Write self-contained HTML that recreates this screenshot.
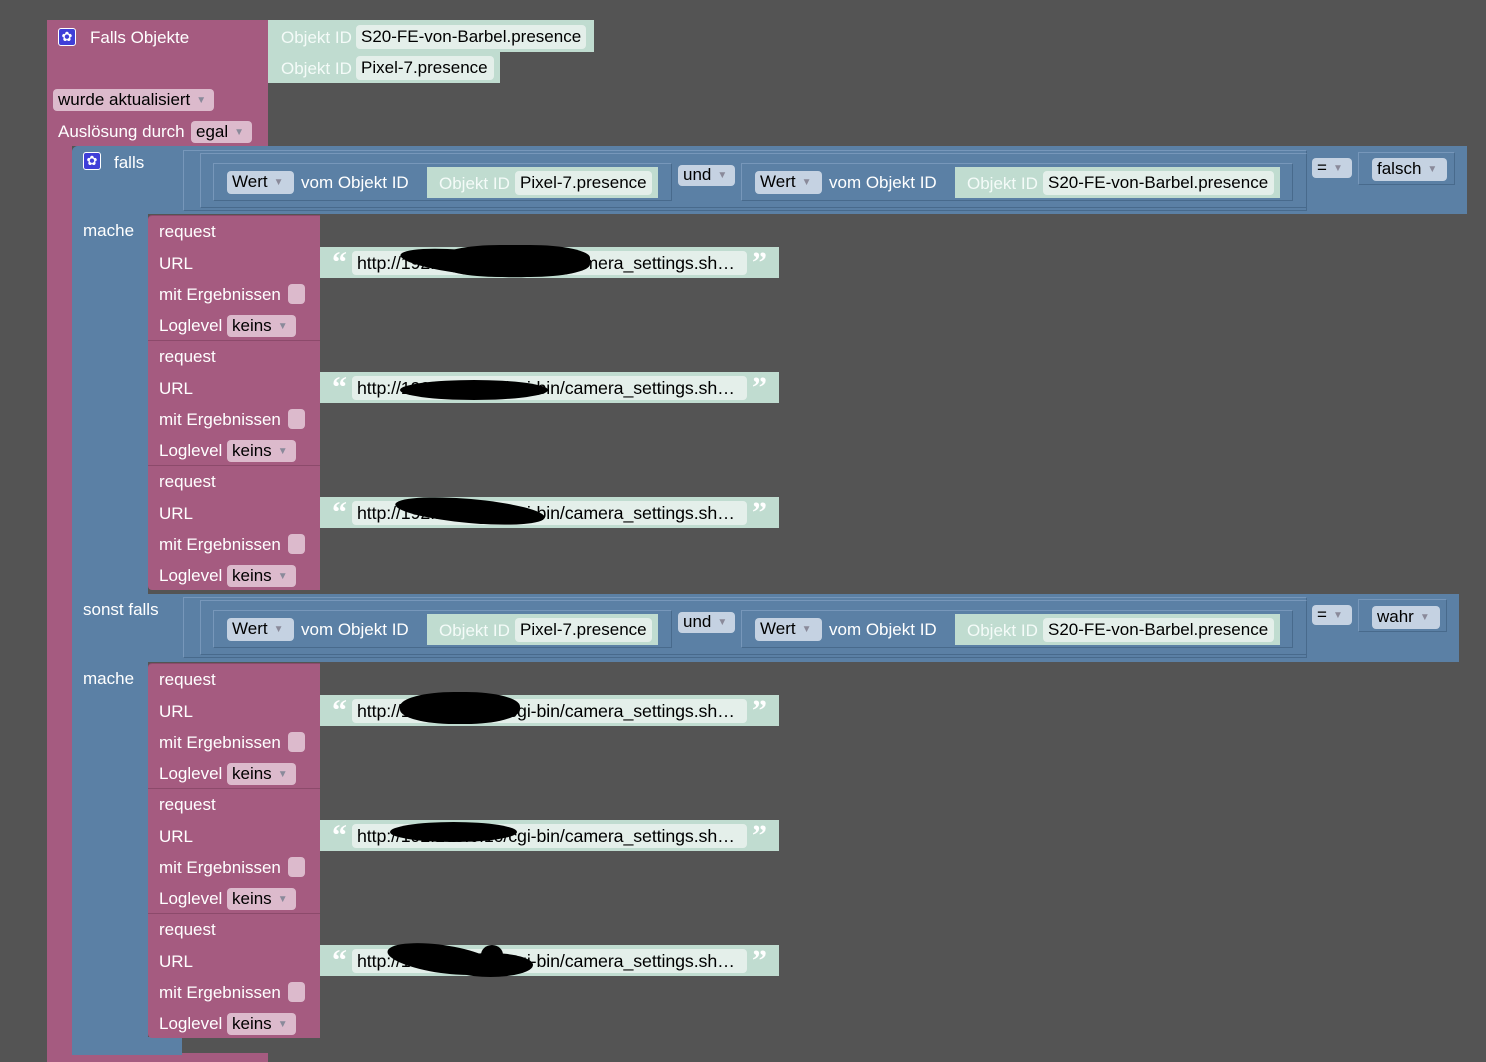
<!DOCTYPE html>
<html><head><meta charset="utf-8"><style>
body{margin:0;width:1486px;height:1062px;background:#545454;overflow:hidden;font-family:"Liberation Sans",Arial,sans-serif;font-size:17px;position:relative}
div{position:absolute;box-sizing:border-box}
.t{color:#fff;white-space:nowrap;line-height:22px}
.pk{background:#a55b80}
.bl{background:#5b80a5}
.tl{background:#c0dcd0}
.pdd{background:#dcbacc;border-radius:4px;color:#000;line-height:20px;padding-left:5px;white-space:nowrap}
.bdd{background:#c5d2e2;border-radius:4px;color:#000;line-height:22px;padding-left:5px;white-space:nowrap}
.ar{font-size:10px;color:#8a8a9a;margin-left:6px;vertical-align:2px}
.fld{background:#e4efea;border-radius:4px;color:#000;line-height:24px;padding-left:5px;white-space:nowrap;overflow:hidden}
.u{font-size:17.8px;letter-spacing:-0.1px}
.box{border:1px solid #7797ba;border-bottom-color:#486a8c;border-right-color:#486a8c}
.blob{background:#000;border-radius:50%}
.q{color:#fff;font-size:30px;font-family:"Liberation Serif",serif;line-height:30px;font-weight:bold}
</style></head><body>

<!-- main pink -->
<div class="pk" style="left:47px;top:20px;width:221px;height:126px;border-radius:6px 0 0 0"></div>
<div class="pk" style="left:47px;top:20px;width:25px;height:1042px"></div>
<div class="pk" style="left:47px;top:1053px;width:221px;height:9px"></div>
<div style="left:58px;top:28px;width:18px;height:18px;background:#3f3fd8;border-radius:3px;color:#fff;font-size:13px;text-align:center;line-height:16px;border:1px solid #fff">✿</div>
<div class="t" style="left:90px;top:27px">Falls Objekte</div>
<div class="tl" style="left:268px;top:20px;width:326px;height:32px"></div>
<div class="t" style="left:281px;top:27px;color:#f4fbf8">Objekt ID</div>
<div class="fld" style="left:356px;top:25px;width:230px">S20-FE-von-Barbel.presence</div>
<div class="tl" style="left:268px;top:52px;width:232px;height:31px"></div>
<div class="t" style="left:281px;top:58px;color:#f4fbf8">Objekt ID</div>
<div class="fld" style="left:356px;top:56px;width:138px">Pixel-7.presence</div>
<div class="pdd" style="left:53px;top:89px;width:161px;line-height:21px">wurde aktualisiert<span class="ar">▼</span></div>
<div class="t" style="left:58px;top:121px">Auslösung durch</div>
<div class="pdd" style="left:191px;top:121px;width:61px;line-height:21px">egal<span class="ar">▼</span></div>

<!-- blue if -->
<div class="bl" style="left:72px;top:146px;width:76px;height:909px;border-radius:6px 0 0 6px"></div>
<div class="bl" style="left:72px;top:1037px;width:110px;height:18px"></div>
<div class="t" style="left:83px;top:220px">mache</div>
<div class="t" style="left:83px;top:668px">mache</div>

<!-- falls row -->
<div style="left:0;top:0;width:1486px;height:300px">
<div class="bl" style="left:72px;top:146px;width:1395px;height:68px;border-radius:6px 0 0 0"></div>
<div style="left:83px;top:152px;width:18px;height:18px;background:#3f3fd8;border-radius:3px;color:#fff;font-size:13px;text-align:center;line-height:16px;border:1px solid #fff">✿</div>
<div class="t" style="left:114px;top:152px">falls</div>
<div class="box" style="left:183px;top:150px;width:1124px;height:61px"></div>
<div class="box" style="left:200px;top:153px;width:1107px;height:55px"></div>
<div class="box" style="left:213px;top:163px;width:459px;height:38px"></div>
<div class="box" style="left:741px;top:163px;width:552px;height:38px"></div>
<div class="bdd" style="left:227px;top:171px;width:67px">Wert<span class="ar">▼</span></div>
<div class="t" style="left:301px;top:172px">vom Objekt ID</div>
<div class="tl" style="left:427px;top:167px;width:231px;height:31px"></div>
<div class="t" style="left:439px;top:173px;color:#f4fbf8">Objekt ID</div>
<div class="fld" style="left:515px;top:171px;width:137px">Pixel-7.presence</div>
<div class="bdd" style="left:678px;top:165px;width:57px;line-height:20px">und<span class="ar">▼</span></div>
<div class="bdd" style="left:755px;top:171px;width:67px">Wert<span class="ar">▼</span></div>
<div class="t" style="left:829px;top:172px">vom Objekt ID</div>
<div class="tl" style="left:955px;top:167px;width:325px;height:31px"></div>
<div class="t" style="left:967px;top:173px;color:#f4fbf8">Objekt ID</div>
<div class="fld" style="left:1043px;top:171px;width:231px">S20-FE-von-Barbel.presence</div>
<div class="bdd" style="left:1312px;top:158px;width:40px;line-height:19px">=<span class="ar">▼</span></div>
<div class="box" style="left:1358px;top:152px;width:97px;height:33px"></div>
<div class="bdd" style="left:1372px;top:158px;width:75px">falsch<span class="ar">▼</span></div>
</div>

<!-- sonst falls row -->
<div style="left:0;top:447px;width:1486px;height:300px">
<div class="bl" style="left:72px;top:147px;width:1387px;height:68px"></div>
<div class="t" style="left:83px;top:152px">sonst falls</div>
<div class="box" style="left:183px;top:150px;width:1124px;height:61px"></div>
<div class="box" style="left:200px;top:153px;width:1107px;height:55px"></div>
<div class="box" style="left:213px;top:163px;width:459px;height:38px"></div>
<div class="box" style="left:741px;top:163px;width:552px;height:38px"></div>
<div class="bdd" style="left:227px;top:171px;width:67px">Wert<span class="ar">▼</span></div>
<div class="t" style="left:301px;top:172px">vom Objekt ID</div>
<div class="tl" style="left:427px;top:167px;width:231px;height:31px"></div>
<div class="t" style="left:439px;top:173px;color:#f4fbf8">Objekt ID</div>
<div class="fld" style="left:515px;top:171px;width:137px">Pixel-7.presence</div>
<div class="bdd" style="left:678px;top:165px;width:57px;line-height:20px">und<span class="ar">▼</span></div>
<div class="bdd" style="left:755px;top:171px;width:67px">Wert<span class="ar">▼</span></div>
<div class="t" style="left:829px;top:172px">vom Objekt ID</div>
<div class="tl" style="left:955px;top:167px;width:325px;height:31px"></div>
<div class="t" style="left:967px;top:173px;color:#f4fbf8">Objekt ID</div>
<div class="fld" style="left:1043px;top:171px;width:231px">S20-FE-von-Barbel.presence</div>
<div class="bdd" style="left:1312px;top:158px;width:40px;line-height:19px">=<span class="ar">▼</span></div>
<div class="box" style="left:1358px;top:152px;width:89px;height:33px"></div>
<div class="bdd" style="left:1372px;top:159px;width:68px">wahr<span class="ar">▼</span></div>
</div>

<!-- request blocks -->
<div style="left:148px;top:215px;width:640px;height:125px">
<div class="pk" style="left:0;top:0;width:172px;height:125px;border-top:1px solid #8c4a6b;border-radius:4px 0 0 0"></div>
<div class="t" style="left:11px;top:6px">request</div><div class="t" style="left:11px;top:38px">URL</div>
<div class="t" style="left:11px;top:69px">mit Ergebnissen</div><div class="t" style="left:11px;top:100px">Loglevel</div>
<div style="left:140px;top:69px;width:17px;height:20px;background:#dcbacc;border-radius:4px"></div>
<div class="pdd" style="left:79px;top:100px;width:69px;line-height:21px">keins<span class="ar">▼</span></div>
<div class="tl" style="left:172px;top:32px;width:459px;height:31px"></div>
<div class="q" style="left:184px;top:33px">“</div><div class="fld u" style="left:204px;top:36px;width:395px">http://192.168.0.10/cgi-bin/camera_settings.sh…</div><div class="q" style="left:604px;top:33px">”</div>
<div class="blob" style="left:252px;top:36px;width:150px;height:24px;transform:rotate(6deg)"></div>
<div class="blob" style="left:292px;top:30px;width:150px;height:32px;border-radius:40%"></div>
</div>

<div style="left:148px;top:340px;width:640px;height:125px">
<div class="pk" style="left:0;top:0;width:172px;height:125px;border-top:1px solid #8c4a6b"></div>
<div class="t" style="left:11px;top:6px">request</div><div class="t" style="left:11px;top:38px">URL</div>
<div class="t" style="left:11px;top:69px">mit Ergebnissen</div><div class="t" style="left:11px;top:100px">Loglevel</div>
<div style="left:140px;top:69px;width:17px;height:20px;background:#dcbacc;border-radius:4px"></div>
<div class="pdd" style="left:79px;top:100px;width:69px;line-height:21px">keins<span class="ar">▼</span></div>
<div class="tl" style="left:172px;top:32px;width:459px;height:31px"></div>
<div class="q" style="left:184px;top:33px">“</div><div class="fld u" style="left:204px;top:36px;width:395px">http://192.168.0.10/cgi-bin/camera_settings.sh…</div><div class="q" style="left:604px;top:33px">”</div>
<div class="blob" style="left:252px;top:40px;width:148px;height:20px"></div>
</div>

<div style="left:148px;top:465px;width:640px;height:125px">
<div class="pk" style="left:0;top:0;width:172px;height:125px;border-top:1px solid #8c4a6b;border-radius:0 0 0 4px"></div>
<div class="t" style="left:11px;top:6px">request</div><div class="t" style="left:11px;top:38px">URL</div>
<div class="t" style="left:11px;top:69px">mit Ergebnissen</div><div class="t" style="left:11px;top:100px">Loglevel</div>
<div style="left:140px;top:69px;width:17px;height:20px;background:#dcbacc;border-radius:4px"></div>
<div class="pdd" style="left:79px;top:100px;width:69px;line-height:21px">keins<span class="ar">▼</span></div>
<div class="tl" style="left:172px;top:32px;width:459px;height:31px"></div>
<div class="q" style="left:184px;top:33px">“</div><div class="fld u" style="left:204px;top:36px;width:395px">http://192.168.0.10/cgi-bin/camera_settings.sh…</div><div class="q" style="left:604px;top:33px">”</div>
<div class="blob" style="left:247px;top:34px;width:150px;height:24px;transform:rotate(5deg)"></div>
</div>

<div style="left:148px;top:663px;width:640px;height:125px">
<div class="pk" style="left:0;top:0;width:172px;height:125px;border-top:1px solid #8c4a6b;border-radius:4px 0 0 0"></div>
<div class="t" style="left:11px;top:6px">request</div><div class="t" style="left:11px;top:38px">URL</div>
<div class="t" style="left:11px;top:69px">mit Ergebnissen</div><div class="t" style="left:11px;top:100px">Loglevel</div>
<div style="left:140px;top:69px;width:17px;height:20px;background:#dcbacc;border-radius:4px"></div>
<div class="pdd" style="left:79px;top:100px;width:69px;line-height:21px">keins<span class="ar">▼</span></div>
<div class="tl" style="left:172px;top:32px;width:459px;height:31px"></div>
<div class="q" style="left:184px;top:33px">“</div><div class="fld u" style="left:204px;top:36px;width:395px">http://192.168.0.10/cgi-bin/camera_settings.sh…</div><div class="q" style="left:604px;top:33px">”</div>
<div class="blob" style="left:252px;top:29px;width:120px;height:32px;border-radius:45%"></div>
</div>

<div style="left:148px;top:788px;width:640px;height:125px">
<div class="pk" style="left:0;top:0;width:172px;height:125px;border-top:1px solid #8c4a6b"></div>
<div class="t" style="left:11px;top:6px">request</div><div class="t" style="left:11px;top:38px">URL</div>
<div class="t" style="left:11px;top:69px">mit Ergebnissen</div><div class="t" style="left:11px;top:100px">Loglevel</div>
<div style="left:140px;top:69px;width:17px;height:20px;background:#dcbacc;border-radius:4px"></div>
<div class="pdd" style="left:79px;top:100px;width:69px;line-height:21px">keins<span class="ar">▼</span></div>
<div class="tl" style="left:172px;top:32px;width:459px;height:31px"></div>
<div class="q" style="left:184px;top:33px">“</div><div class="fld u" style="left:204px;top:36px;width:395px">http://192.168.0.10/cgi-bin/camera_settings.sh…</div><div class="q" style="left:604px;top:33px">”</div>
<div class="blob" style="left:242px;top:34px;width:127px;height:20px"></div>
</div>

<div style="left:148px;top:913px;width:640px;height:125px">
<div class="pk" style="left:0;top:0;width:172px;height:125px;border-top:1px solid #8c4a6b;border-radius:0 0 0 4px"></div>
<div class="t" style="left:11px;top:6px">request</div><div class="t" style="left:11px;top:38px">URL</div>
<div class="t" style="left:11px;top:69px">mit Ergebnissen</div><div class="t" style="left:11px;top:100px">Loglevel</div>
<div style="left:140px;top:69px;width:17px;height:20px;background:#dcbacc;border-radius:4px"></div>
<div class="pdd" style="left:79px;top:100px;width:69px;line-height:21px">keins<span class="ar">▼</span></div>
<div class="tl" style="left:172px;top:32px;width:459px;height:31px"></div>
<div class="q" style="left:184px;top:33px">“</div><div class="fld u" style="left:204px;top:36px;width:395px">http://192.168.0.10/cgi-bin/camera_settings.sh…</div><div class="q" style="left:604px;top:33px">”</div>
<div class="blob" style="left:239px;top:32px;width:110px;height:28px;transform:rotate(8deg)"></div>
<div class="blob" style="left:300px;top:40px;width:85px;height:24px"></div>
<div class="blob" style="left:333px;top:32px;width:22px;height:20px"></div>
</div>

</body></html>
